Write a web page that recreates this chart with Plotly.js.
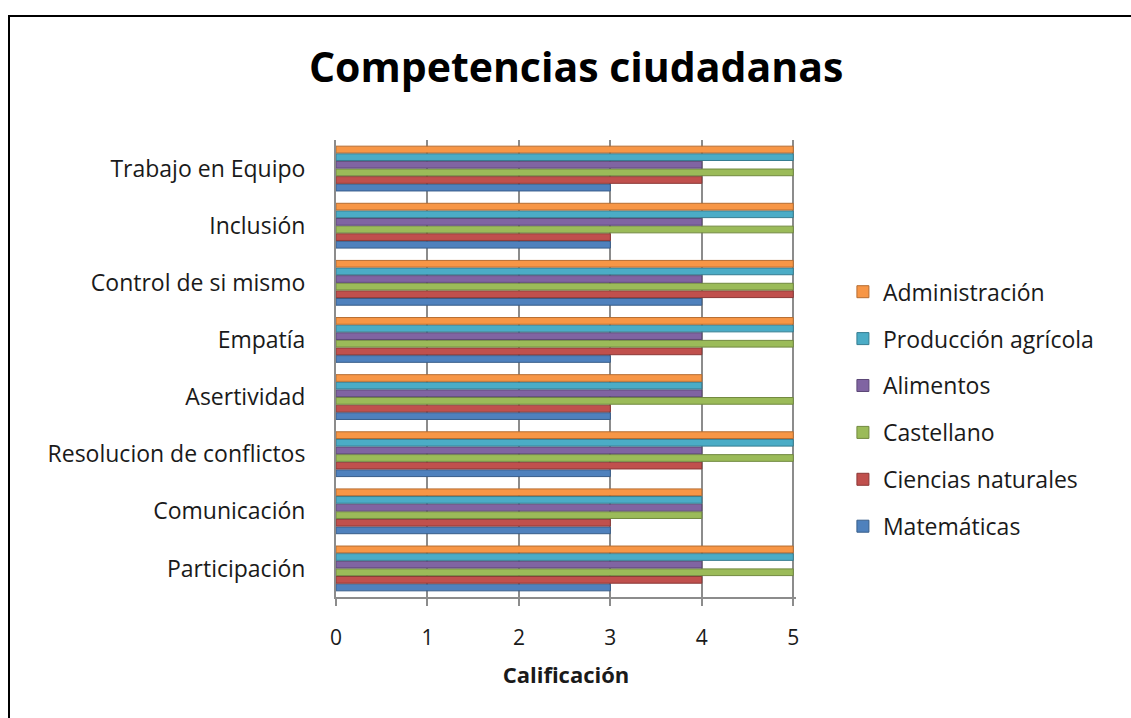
<!DOCTYPE html>
<html>
<head>
<meta charset="utf-8">
<script src="https://cdn.plot.ly/plotly-3.0.1.min.js"></script>
<style>
html, body { margin: 0; padding: 0; background: #fff; }
#wrap { position: relative; width: 1131px; height: 718px; overflow: hidden; }
#chart { position: absolute; left: 0; top: 0; width: 1131px; height: 718px; }
#frame { position: absolute; left: 8px; top: 15px; width: 1140px; height: 720px; border: 2px solid #000; pointer-events: none; box-sizing: border-box; }
</style>
</head>
<body>
<div id="wrap">
<div id="chart"></div>
<div id="frame"></div>
</div>
<script>
const categories = ["Participación", "Comunicación", "Resolucion de conflictos", "Asertividad", "Empatía", "Control de si mismo", "Inclusión", "Trabajo en Equipo"];
const matematicas = [3, 3, 3, 3, 3, 4, 3, 3];
const cienciasNaturales = [4, 3, 4, 3, 4, 5, 3, 4];
const castellano = [5, 4, 5, 5, 5, 5, 5, 5];
const alimentos = [4, 4, 4, 4, 4, 4, 4, 4];
const produccionAgricola = [5, 4, 5, 4, 5, 5, 5, 5];
const administracion = [5, 4, 5, 4, 5, 5, 5, 5];
const seriesNames = ["Matemáticas", "Ciencias naturales", "Castellano", "Alimentos", "Producción agrícola", "Administración"];
const seriesValues = [matematicas, cienciasNaturales, castellano, alimentos, produccionAgricola, administracion];
const seriesColors = ["#4F81BD", "#C0504D", "#9BBB59", "#8064A2", "#4BACC6", "#F79646"];
const lineColors = ["#385D8A", "#8C3836", "#71893F", "#5C4776", "#357D91", "#B66D31"];
const xTicks = [0, 1, 2, 3, 4, 5];

const font = "'Open Sans', Lato, sans-serif";
const txt = "#1a1a1a";
const traces = seriesNames.map((name, i) => ({
  type: "bar",
  orientation: "h",
  name: name,
  y: categories,
  x: seriesValues[i],
  legendgroup: "g" + i,
  legendrank: 100 - i,
  marker: { color: seriesColors[i], line: { color: lineColors[i], width: 1 } },
  hoverinfo: "x+y+name"
}));

const layout = {
  width: 1131, height: 718,
  margin: { l: 336, r: 335, t: 140, b: 121 },
  paper_bgcolor: "#fff", plot_bgcolor: "#fff",
  barmode: "group", bargap: 0.2, bargroupgap: 0.12,
  title: { text: "<b>Competencias ciudadanas</b>", font: { family: font, size: 41, color: "#000" },
           x: 0.522, xanchor: "center", xref: "paper", y: 1 - 68/718, yanchor: "middle", yref: "container" },
  xaxis: {
    range: [0, 5.03], tickvals: xTicks, ticktext: xTicks.map(String),
    showgrid: true, gridcolor: "#8C8C8C", gridwidth: 2,
    zeroline: false, showline: true, linecolor: "#8C8C8C", linewidth: 2,
    ticks: "outside", ticklen: 7, tickwidth: 2, tickcolor: "#8C8C8C", ticklabelstandoff: 14,
    tickfont: { family: font, size: 21, color: txt },
    title: { text: "<b>Calificación</b>", font: { family: font, size: 22, color: txt }, standoff: 17 },
    fixedrange: true
  },
  yaxis: {
    type: "category", range: [-0.5, 7.5],
    showgrid: false, zeroline: false, showline: true, linecolor: "#8C8C8C", linewidth: 2,
    ticks: "", ticklabelstandoff: 24,
    tickfont: { family: font, size: 23, color: txt },
    fixedrange: true
  },
  legend: {
    x: 1.102, xanchor: "left", y: 0.715, yanchor: "top",
    traceorder: "grouped", tracegroupgap: 14,
    font: { family: font, size: 23, color: txt },
    bgcolor: "rgba(0,0,0,0)"
  },
  showlegend: true
};

Plotly.newPlot("chart", traces, layout, { displayModeBar: false, staticPlot: true });
</script>
</body>
</html>
